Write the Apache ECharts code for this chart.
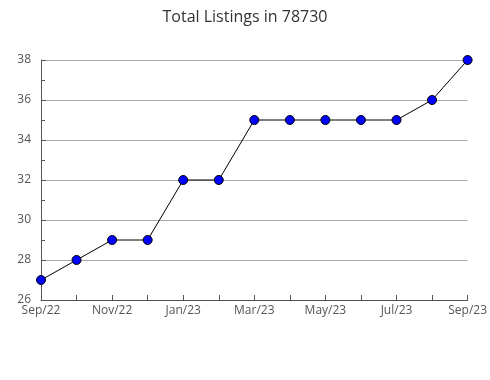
<!DOCTYPE html>
<html>
<head>
<meta charset="utf-8">
<script src="https://cdn.jsdelivr.net/npm/echarts@6/dist/echarts.min.js"></script>
<style>html,body{margin:0;padding:0;background:#fff}#c{width:490px;height:380px}</style>
</head>
<body>
<div id="c"></div>
<script>
const categories = ["Sep/22","Oct/22","Nov/22","Dec/22","Jan/23","Feb/23","Mar/23","Apr/23","May/23","Jun/23","Jul/23","Aug/23","Sep/23"];
const listings = [27, 28, 29, 29, 32, 32, 35, 35, 35, 35, 35, 36, 38];
const yTicks = {min: 26, max: 38, interval: 2};

const chart = echarts.init(document.getElementById('c'));
const font = '"Open Sans", sans-serif';
chart.setOption({
  animation: false,
  title: {
    text: 'Total Listings in 78730',
    left: 'center', top: 4,
    textStyle: {fontFamily: font, fontWeight: 'normal', fontSize: 16, color: '#333'}
  },
  grid: {left: 41, right: 19, top: 60, bottom: 80, containLabel: false},
  xAxis: {
    type: 'category',
    data: categories,
    boundaryGap: false,
    axisLine: {lineStyle: {color: '#555'}},
    axisTick: {inside: true, length: 5, interval: 0, lineStyle: {color: '#555'}},
    axisLabel: {interval: 1, color: '#555', fontFamily: font, fontSize: 12, margin: 5},
    splitLine: {show: false}
  },
  yAxis: {
    type: 'value',
    min: yTicks.min, max: yTicks.max, interval: yTicks.interval,
    axisLine: {show: true, lineStyle: {color: '#555'}},
    axisTick: {show: true, inside: true, length: 5, lineStyle: {color: '#555'}},
    minorTick: {show: true, splitNumber: 2, length: 4, lineStyle: {color: '#555'}},
    axisLabel: {color: '#555', fontFamily: font, fontSize: 12, margin: 10},
    splitLine: {show: true, lineStyle: {color: '#aaa', width: 1}}
  },
  series: [{
    type: 'line',
    data: listings,
    symbol: 'circle',
    symbolSize: 9,
    lineStyle: {color: '#000', width: 1},
    itemStyle: {color: '#0000ff', borderColor: '#000', borderWidth: 1}
  }]
});
</script>
</body>
</html>
